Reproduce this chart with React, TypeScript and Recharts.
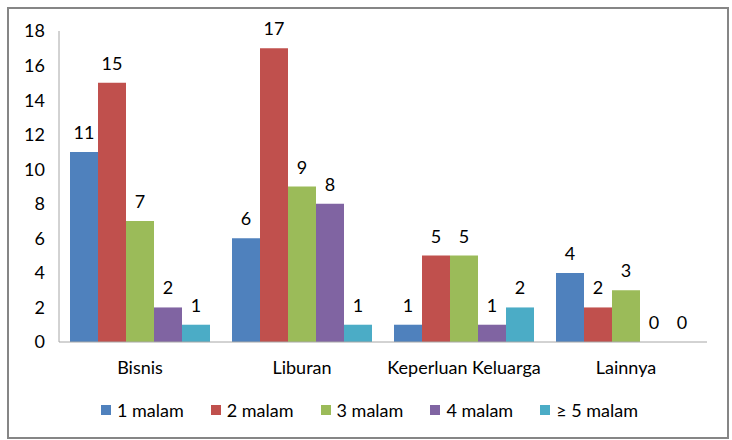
import { BarChart, Bar, XAxis, YAxis, LabelList, Legend } from 'recharts';

const categories = ['Bisnis', 'Liburan', 'Keperluan Keluarga', 'Lainnya'];
const seriesNames = ['1 malam', '2 malam', '3 malam', '4 malam', '≥ 5 malam'];
const malam1 = [11, 6, 1, 4];
const malam2 = [15, 17, 5, 2];
const malam3 = [7, 9, 5, 3];
const malam4 = [2, 8, 1, 0];
const malam5 = [1, 1, 2, 0];
const yTicks = [0, 2, 4, 6, 8, 10, 12, 14, 16, 18];

const colors = ['#4F81BD', '#C0504D', '#9BBB59', '#8064A2', '#4BACC6'];
const seriesValues = [malam1, malam2, malam3, malam4, malam5];

const data = categories.map((name, i) => {
  const row: Record<string, string | number> = { name };
  seriesNames.forEach((s, j) => {
    row[s] = seriesValues[j][i];
  });
  return row;
});

const FONT = 'Lato, "Open Sans", sans-serif';
const FS = 18;

function LegendContent() {
  return (
    <div style={{ display: 'flex', justifyContent: 'center', fontFamily: FONT, fontSize: FS, color: '#000', lineHeight: '22px', marginLeft: 32 }}>
      {seriesNames.map((s, i) => (
        <div key={s} style={{ display: 'flex', alignItems: 'center', marginRight: i < 4 ? 27 : 0 }}>
          <span style={{ display: 'inline-block', width: 10, height: 10, background: colors[i], marginRight: 6 }} />
          <span>{s}</span>
        </div>
      ))}
    </div>
  );
}

export default function App() {
  return (
    <div style={{ position: 'absolute', left: 0, top: 0, width: 732, height: 440, background: '#fff' }}>
      <div
        style={{
          position: 'absolute',
          left: 7,
          top: 7,
          width: 718,
          height: 428,
          border: '2px solid #868686',
        }}
      />
      <div style={{ position: 'absolute', left: 0, top: 0 }}>
        <BarChart
          width={732}
          height={440}
          data={data}
          margin={{ top: 31, right: 25, bottom: 0, left: 0 }}
          barCategoryGap={11}
          barGap={0}
        >
          <XAxis
            dataKey="name"
            stroke="#a6a6a6"
            tickLine={false}
            tickSize={0}
            tickMargin={19}
            height={76}
            tick={{ fill: '#000', fontSize: FS, fontFamily: FONT }}
            interval={0}
          />
          <YAxis
            domain={[0, 18]}
            ticks={yTicks}
            width={59}
            stroke="#a6a6a6"
            tickLine={false}
            tickSize={0}
            tickMargin={14}
            tick={{ fill: '#000', fontSize: FS, fontFamily: FONT }}
            interval={0}
          />
          <Legend
            verticalAlign="bottom"
            content={() => <LegendContent />}
            wrapperStyle={{ bottom: 19 }}
          />
          {seriesNames.map((s, i) => (
            <Bar key={s} dataKey={s} fill={colors[i]} minPointSize={0.01} isAnimationActive={false}>
              <LabelList
                dataKey={s}
                position="top"
                offset={13}
                style={{ fill: '#000', fontSize: FS, fontFamily: FONT }}
              />
            </Bar>
          ))}
        </BarChart>
      </div>
    </div>
  );
}
